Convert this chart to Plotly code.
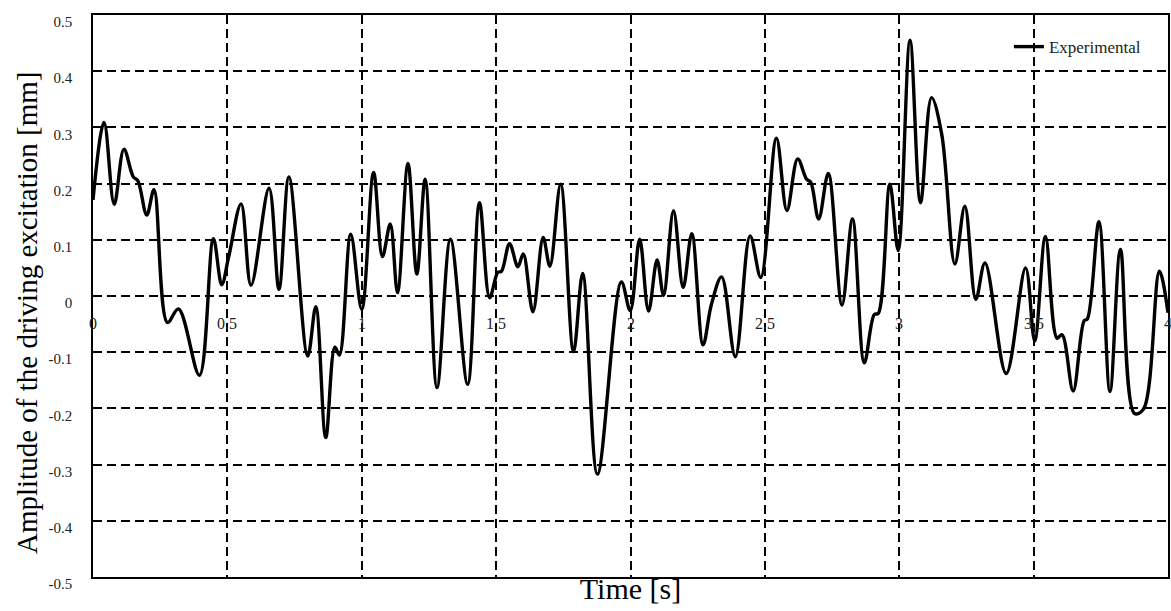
import plotly.graph_objects as go

# Measured driving excitation (time in s, amplitude in mm)
time_s = [
    0.000, 0.041, 0.079, 0.115, 0.150, 0.167, 0.200, 0.227, 0.277, 0.318,
    0.396, 0.448, 0.479, 0.505, 0.551, 0.588, 0.655, 0.692, 0.729, 0.799,
    0.829, 0.866, 0.900, 0.917, 0.959, 1.000, 1.044, 1.077, 1.106, 1.133,
    1.172, 1.205, 1.236, 1.280, 1.330, 1.394, 1.438, 1.476, 1.506, 1.520,
    1.550, 1.581, 1.601, 1.637, 1.675, 1.700, 1.740, 1.788, 1.822, 1.877,
    1.966, 1.999, 2.034, 2.067, 2.099, 2.123, 2.160, 2.196, 2.228, 2.270,
    2.301, 2.339, 2.390, 2.445, 2.485, 2.543, 2.582, 2.622, 2.655, 2.671,
    2.700, 2.736, 2.787, 2.826, 2.870, 2.907, 2.922, 2.965, 2.996, 3.040,
    3.079, 3.120, 3.158, 3.207, 3.244, 3.285, 3.319, 3.398, 3.470, 3.504,
    3.544, 3.587, 3.606, 3.647, 3.688, 3.700, 3.743, 3.784, 3.823, 3.875,
    3.909, 3.968, 4.000,
]
amplitude_mm = [
    0.171, 0.309, 0.163, 0.261, 0.212, 0.205, 0.144, 0.189, -0.047, -0.023,
    -0.141, 0.102, 0.020, 0.070, 0.164, 0.019, 0.192, 0.012, 0.212, -0.107,
    -0.019, -0.252, -0.091, -0.105, 0.110, -0.024, 0.220, 0.070, 0.128, 0.006,
    0.236, 0.039, 0.208, -0.163, 0.101, -0.157, 0.166, -0.003, 0.042, 0.044,
    0.093, 0.052, 0.075, -0.028, 0.104, 0.053, 0.199, -0.099, 0.040, -0.317,
    0.025, -0.026, 0.101, -0.027, 0.064, 0.001, 0.152, 0.015, 0.111, -0.087,
    -0.015, 0.034, -0.108, 0.107, 0.033, 0.281, 0.152, 0.244, 0.208, 0.202,
    0.137, 0.218, -0.016, 0.137, -0.119, -0.033, -0.031, 0.199, 0.081, 0.455,
    0.166, 0.353, 0.288, 0.057, 0.160, -0.006, 0.059, -0.138, 0.050, -0.080,
    0.106, -0.075, -0.069, -0.169, -0.044, -0.041, 0.132, -0.170, 0.083, -0.209,
    -0.201, 0.044, -0.030,
]

x_ticks = [0, 0.5, 1, 1.5, 2, 2.5, 3, 3.5, 4]
x_tick_text = ["0", "0.5", "1", "1.5", "2", "2.5", "3", "3.5", "4"]
y_ticks = [0.5, 0.4, 0.3, 0.2, 0.1, 0, -0.1, -0.2, -0.3, -0.4, -0.5]
y_tick_text = ["0.5", "0.4", "0.3", "0.2", "0.1", "0", "-0.1", "-0.2", "-0.3", "-0.4", "-0.5"]

FONT = "Liberation Serif, Times New Roman, serif"
GRID_DASH = "9px,5px"

fig = go.Figure()
fig.add_trace(go.Scatter(
    x=time_s, y=amplitude_mm, mode="lines", name="Experimental",
    line=dict(color="black", width=3.4, shape="spline", smoothing=1.0),
))

# x tick labels sit just under the zero line, inside the plot
for xv, txt in zip(x_ticks, x_tick_text):
    fig.add_annotation(
        x=xv, y=0, xref="x", yref="y", text=txt, showarrow=False,
        yanchor="middle", yshift=-27, font=dict(family=FONT, size=16, color="#222"),
    )

# vertical axis title, placed by hand so it can sit slightly below centre
fig.add_annotation(
    x=0, y=0.5, xref="paper", yref="paper", xshift=-66, yshift=-17,
    text="Amplitude of the driving excitation [mm]", textangle=-90,
    showarrow=False, xanchor="center", yanchor="middle",
    font=dict(family=FONT, size=29, color="black"),
)

fig.update_layout(
    width=1171, height=611,
    margin=dict(l=93, r=3, t=15, b=34),
    paper_bgcolor="white", plot_bgcolor="white",
    font=dict(family=FONT, color="black"),
    showlegend=True,
    legend=dict(
        x=0.852, y=0.975, xanchor="left", yanchor="top",
        bgcolor="rgba(0,0,0,0)", font=dict(family=FONT, size=17, color="#222"),
    ),
    xaxis=dict(
        range=[0, 4], tickvals=x_ticks, showticklabels=False, ticks="",
        showgrid=True, gridcolor="black", griddash=GRID_DASH, gridwidth=1.5,
        showline=True, mirror=True, linecolor="black", linewidth=1.6,
        zeroline=False,
        title=dict(text="Time [s]", font=dict(family=FONT, size=30, color="black"), standoff=0),
        automargin=False,
    ),
    yaxis=dict(
        range=[-0.5, 0.5], tickvals=y_ticks, ticktext=y_tick_text, ticks="",
        ticklabelstandoff=16, ticklabelshift=7,
        tickfont=dict(family=FONT, size=15, color="#222"),
        showgrid=True, gridcolor="black", griddash=GRID_DASH, gridwidth=1.5,
        showline=True, mirror=True, linecolor="black", linewidth=1.6,
        zeroline=False,
        automargin=False,
    ),
)

fig.write_html("out.html")
